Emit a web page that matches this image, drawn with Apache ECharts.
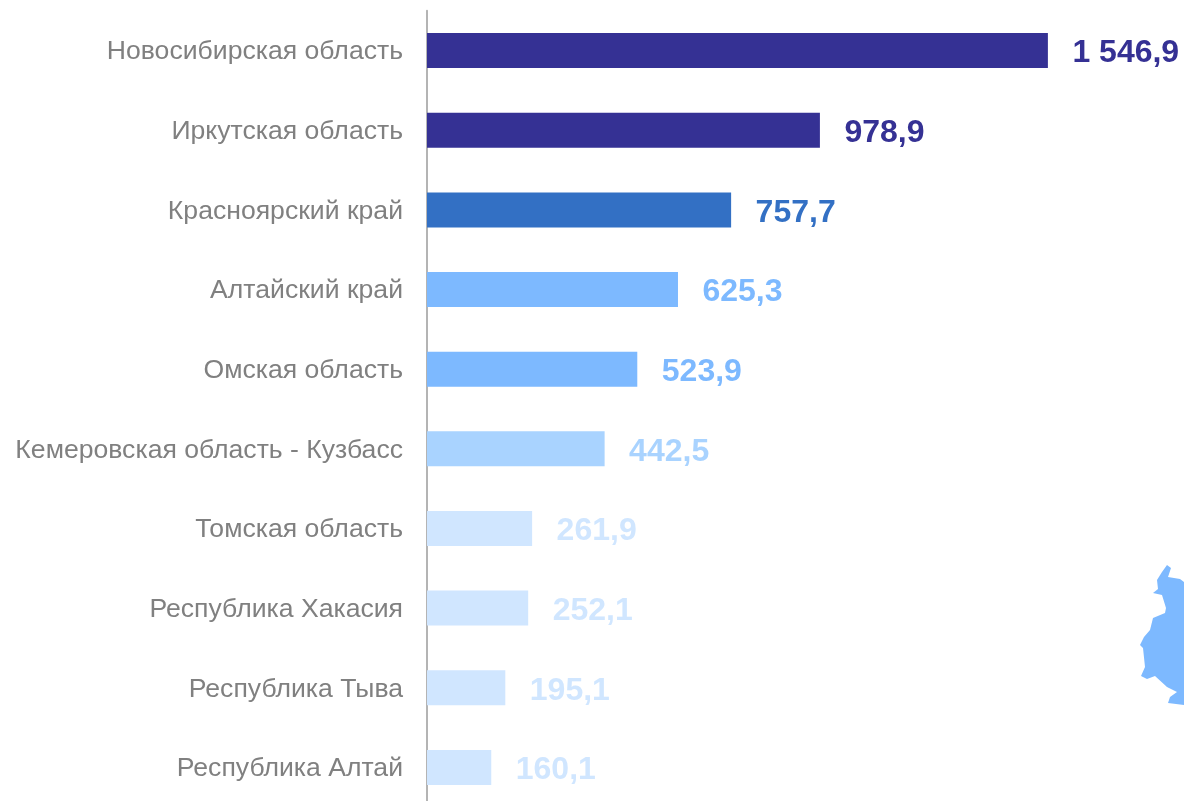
<!DOCTYPE html>
<html><head><meta charset="utf-8">
<style>html,body{margin:0;padding:0;background:#fff}#c{width:1184px;height:801px}</style>
<script src="https://cdn.jsdelivr.net/npm/echarts@6/dist/echarts.min.js"></script>
</head><body><div id="c"></div>
<script>
const categories = ["Новосибирская область","Иркутская область","Красноярский край","Алтайский край","Омская область","Кемеровская область - Кузбасс","Томская область","Республика Хакасия","Республика Тыва","Республика Алтай"];
const values = [1546.9,978.9,757.7,625.3,523.9,442.5,261.9,252.1,195.1,160.1];
const colors = ["#353194","#353194","#3370C4","#7DB9FF","#7DB9FF","#A9D3FF","#D0E6FF","#D0E6FF","#D0E6FF","#D0E6FF"];
const regionShape = [[1167,565],[1171,568],[1168,577],[1180,579],[1184,582],[1184,705],[1168,703],[1170,697],[1177,692],[1167,687],[1155,676],[1147,679],[1141,676],[1145,667],[1143,648],[1140,645],[1144,637],[1150,630],[1153,618],[1165,613],[1166,608],[1162,595],[1153,593],[1158,589],[1157,580],[1162,572]];
const fmt = v => { const p = v.toFixed(1).split("."); return p[0].replace(/\B(?=(\d{3})+$)/g," ") + "," + p[1]; };
const chart = echarts.init(document.getElementById("c"));
chart.setOption({
  animation:false,
  graphic:[{type:"polygon",shape:{points:regionShape},style:{fill:"#7DB9FF"},silent:true}],
  grid:{left:427,width:757,top:10.8,height:796.4,containLabel:false,outerBoundsMode:"none"},
  xAxis:{type:"value",min:0,max:1886,show:false},
  yAxis:{type:"category",inverse:true,data:categories,
    axisLine:{show:true,lineStyle:{color:"#B4B4B4",width:2}},axisTick:{show:false},
    axisLabel:{margin:24,formatter:"{a|{value}}",
      rich:{a:{color:"#808080",fontSize:26.6,fontFamily:"Liberation Sans",padding:[3,0,0,0]}}}},
  series:[{type:"bar",barWidth:35,
    data:values.map((v,i)=>({value:v,itemStyle:{color:colors[i]},
      label:{color:colors[i]}})),
    label:{show:true,position:"right",distance:24.5,offset:[0,3],fontSize:32,fontWeight:"bold",fontFamily:"Liberation Sans",
      formatter:p=>fmt(p.value)}}]
});
</script></body></html>
